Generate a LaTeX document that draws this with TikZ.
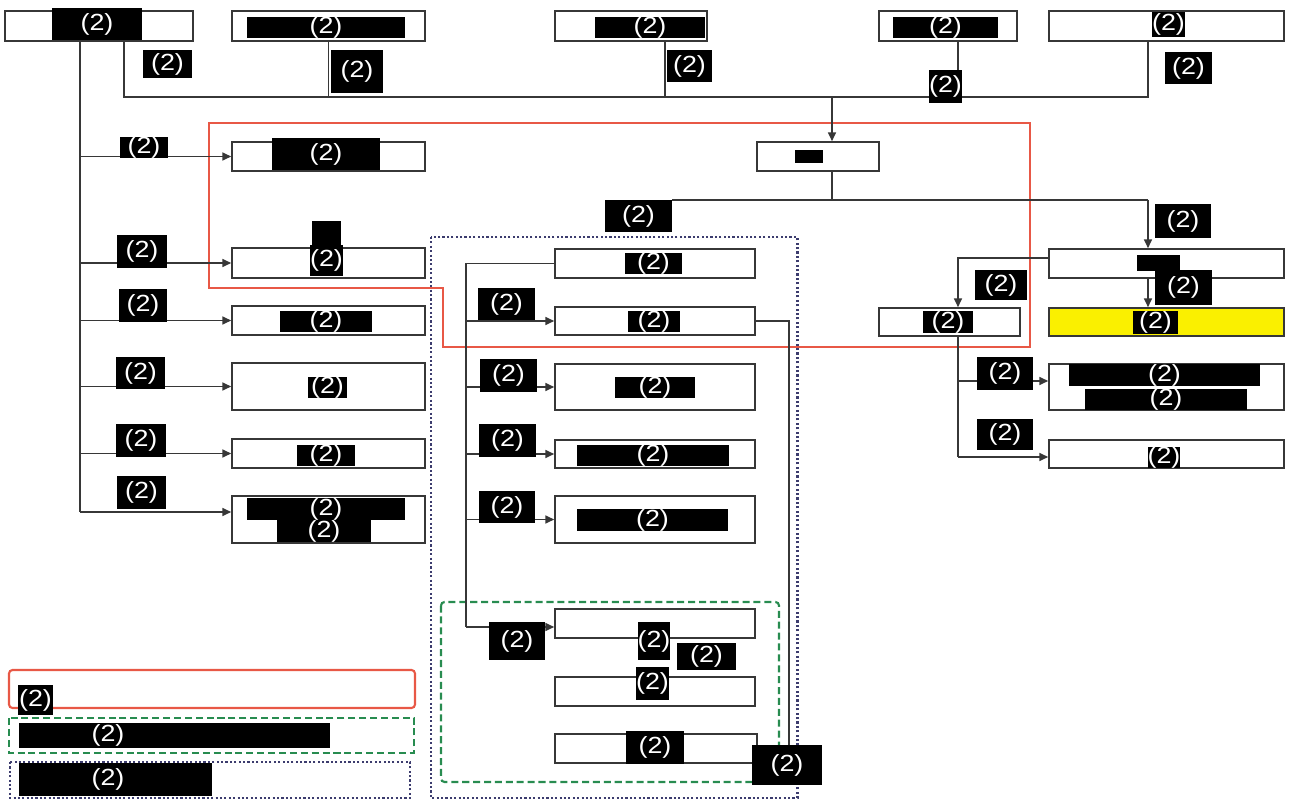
\documentclass[tikz,border=0pt]{standalone}
\usepackage{fontspec}
\setmainfont{Liberation Sans}
\newfontfamily\labfont[FakeStretch=1.15]{Liberation Sans}
\usetikzlibrary{arrows.meta}
\definecolor{redg}{RGB}{232,88,70}
\definecolor{greeng}{RGB}{40,140,80}
\definecolor{navyg}{RGB}{60,60,110}
\definecolor{boxc}{RGB}{55,55,55}
\definecolor{yel}{RGB}{250,240,0}
\tikzset{
  box/.style={draw=boxc, line width=0.9pt, fill=white, inner sep=0pt},
  blk/.style={fill=black, text=white, inner sep=0pt, font=\labfont\fontsize{13.3}{14}\selectfont},
  txt/.style={text=white, inner sep=0pt, font=\labfont\fontsize{13.3}{14}\selectfont},
  con/.style={draw=boxc, line width=0.85pt},
  arr/.style={con, -{Triangle[length=5pt,width=4.5pt]}},
  redl/.style={draw=redg, line width=1.2pt},
  greenl/.style={draw=greeng, line width=1.2pt, dash pattern=on 4pt off 2.2pt},
  navyl/.style={draw=navyg, line width=1.7pt, dash pattern=on 1.2pt off 1.3pt},
}
% box: [opts]{x1}{y1}{x2}{y2}{name}
\newcommand\mybox[6][]{\node[box,#1, minimum width={(#4-#2)*0.02cm}, minimum height={(#5-#3)*0.02cm}] (#6) at ({(#2+#4)/2},{(#3+#5)/2}) {};}
% redaction: {x1}{y1}{x2}{y2}{name}{text}
\newcommand\rd[6]{\node[blk, minimum width={(#3-#1)*0.02cm}, minimum height={(#4-#2)*0.02cm}] (#5) at ({(#1+#3)/2},{(#2+#4)/2}) {#6};}
\begin{document}
\begin{tikzpicture}[x=0.02cm, y=-0.02cm]
\useasboundingbox (0,0) rectangle (1289,800);
\fill[white] (0,0) rectangle (1289,800);

% group frames
\draw[redl] (209,123) -- (1030,123) -- (1030,347) -- (443,347) -- (443,288) -- (209,288) -- cycle;
\draw[navyl] (431,237) rectangle (797,798);
\draw[greenl, rounded corners=2pt] (441,602) rectangle (779,782);

% legend
\draw[redl, rounded corners=2pt] (9,670) rectangle (415,708);
\draw[greenl] (9,718) rectangle (414,753);
\draw[navyl] (10,762) rectangle (410,798);

% boxes
\mybox{5}{11}{193}{41}{A}
\mybox{232}{11}{425}{41}{B}
\mybox{555}{11}{707}{41}{C}
\mybox{879}{11}{1017}{41}{D}
\mybox{1049}{11}{1284}{41}{E}
\mybox{757}{142}{879}{171}{F}
\mybox{1049}{249}{1284}{278}{G}
\mybox[fill=yel]{1049}{308}{1284}{336}{H}
\mybox{879}{308}{1020}{336}{I}
\mybox{1049}{364}{1284}{410}{J}
\mybox{1049}{440}{1284}{468}{K}
\mybox{232}{142}{425}{171}{L1}
\mybox{232}{248}{425}{278}{L2}
\mybox{232}{306}{425}{335}{L3}
\mybox{232}{363}{425}{410}{L4}
\mybox{232}{439}{425}{468}{L5}
\mybox{232}{496}{425}{543}{L6}
\mybox{555}{249}{755}{278}{M1}
\mybox{555}{307}{755}{335}{M2}
\mybox{555}{364}{755}{410}{M3}
\mybox{555}{440}{755}{468}{M4}
\mybox{555}{496}{755}{543}{M5}
\mybox{555}{609}{755}{638}{N1}
\mybox{555}{677}{755}{706}{N2}
\mybox{555}{734}{757}{763}{N3}

% connector coordinates
\coordinate (tA) at (80,512);
\coordinate (b0) at (124,97);
\coordinate (b1) at (1148,97);
\coordinate (cC) at (665,97);
\coordinate (cD) at (958,97);
\coordinate (bF) at (832,97);
\coordinate (j1) at (832,200);
\coordinate (j2) at (1148,200);
\coordinate (gI) at (958,258);
\coordinate (iJ) at (958,381);
\coordinate (iT) at (958,457);
\coordinate (mT) at (466,627);
\coordinate (rT) at (789,319);

% left trunk
\draw[con] (A.south -| tA) -- (tA);
\draw[arr] (L1.west -| tA) -- (L1.west);
\draw[arr] (L2.west -| tA) -- (L2.west);
\draw[arr] (L3.west -| tA) -- (L3.west);
\draw[arr] (L4.west -| tA) -- (L4.west);
\draw[arr] (L5.west -| tA) -- (L5.west);
\draw[arr] (tA) -- (tA -| L6.west);

% top bus
\draw[con] (A.south -| b0) -- (b0) -- (b1) -- (E.south -| b1);
\draw[con] (B.south) -- (B.south |- b0);
\draw[con] (C.south -| cC) -- (cC);
\draw[con] (D.south -| cD) -- (cD);
\draw[arr] (bF) -- (F.north -| bF);

% right side
\draw[con] (F.south -| j1) -- (j1);
\draw[con] (j1 -| 672,0) -- (j2);
\draw[arr] (j2) -- (G.north -| j2);
\draw[arr] (G.south -| j2) -- (H.north -| j2);
\draw[arr] (gI -| G.west) -- (gI) -- (I.north -| gI);
\draw[con] (I.south -| iT) -- (iT);
\draw[arr] (iJ) -- (iJ -| J.west);
\draw[arr] (iT) -- (iT -| K.west);

% middle trunk
\draw[con] (M1.west) -- (M1.west -| mT) -- (mT);
\draw[arr] (M2.west -| mT) -- (M2.west);
\draw[arr] (M3.west -| mT) -- (M3.west);
\draw[arr] (M4.west -| mT) -- (M4.west);
\draw[arr] (M5.west -| mT) -- (M5.west);
\draw[arr] (mT) -- (mT -| N1.west);

% redactions inside boxes
\rd{52}{8}{142}{40}{rA}{(2)}
\rd{247}{18}{405}{37}{rB}{(2)}
\rd{595}{18}{705}{37}{rC}{(2)}
\rd{893}{18}{998}{37}{rD}{(2)}
\rd{1152}{12}{1185}{37}{rE}{(2)}
\rd{795}{150}{823}{163}{rF}{}
\rd{1137}{255}{1180}{271}{rG}{}
\rd{1133}{311}{1178}{334}{rH}{(2)}
\rd{923}{311}{973}{333}{rI}{(2)}
\rd{1069}{366}{1260}{384}{rJa}{(2)}
\rd{1085}{391}{1247}{408}{rJb}{(2)}
\rd{1150}{447}{1178}{468}{rK}{(2)}
\rd{272}{138}{380}{170}{rL1}{(2)}
\rd{312}{221}{341}{246}{rL2a}{}
\rd{312}{245}{341}{276}{rL2}{(2)}
\rd{280}{313}{372}{330}{rL3}{(2)}
\rd{308}{378}{347}{397}{rL4}{(2)}
\rd{297}{445}{355}{466}{rL5}{(2)}
\rd{247}{500}{405}{518}{rL6a}{(2)}
\rd{277}{521}{371}{541}{rL6b}{(2)}
\rd{625}{255}{682}{272}{rM1}{(2)}
\rd{628}{313}{680}{330}{rM2}{(2)}
\rd{615}{377}{695}{398}{rM3}{(2)}
\rd{577}{446}{729}{465}{rM4}{(2)}
\rd{577}{510}{728}{530}{rM5}{(2)}
\rd{638}{622}{670}{660}{rN1}{(2)}
\rd{677}{643}{736}{670}{rN1b}{(2)}
\rd{637}{667}{668}{700}{rN2}{(2)}
\rd{626}{731}{684}{764}{rN3}{(2)}

% connector labels
\rd{143}{50}{192}{78}{lA}{(2)}
\rd{331}{50}{383}{93}{lB}{(2)}
\rd{667}{50}{712}{82}{lC}{(2)}
\rd{933}{70}{958}{103}{lD}{(2)}
\rd{1165}{52}{1212}{84}{lE}{(2)}
\rd{605}{200}{672}{232}{lF}{(2)}
\rd{1155}{204}{1211}{238}{lG}{(2)}
\rd{1155}{270}{1212}{305}{lH}{(2)}
\rd{975}{270}{1027}{300}{lI}{(2)}
\rd{977}{357}{1033}{390}{lJ}{(2)}
\rd{977}{419}{1033}{450}{lK}{(2)}
\rd{120}{139}{168}{156}{lL1}{(2)}
\rd{117}{235}{167}{268}{lL2}{(2)}
\rd{119}{289}{167}{322}{lL3}{(2)}
\rd{116}{357}{165}{389}{lL4}{(2)}
\rd{116}{424}{166}{457}{lL5}{(2)}
\rd{117}{476}{166}{509}{lL6}{(2)}
\rd{478}{288}{535}{320}{lM2}{(2)}
\rd{480}{359}{537}{392}{lM3}{(2)}
\rd{479}{424}{536}{457}{lM4}{(2)}
\rd{479}{491}{535}{523}{lM5}{(2)}
\rd{489}{622}{545}{660}{lN1}{(2)}
\rd{752}{745}{822}{785}{lEnd}{(2)}
\draw[con] (M2.east) -- (M2.east -| rT) -- (rT |- lEnd.north);

% legend labels
\rd{18}{685}{53}{715}{lg1}{(2)}
\fill[black] (19,723) rectangle (330,748);
\node[txt] (lg2) at (108,735) {(2)};
\fill[black] (19,763) rectangle (212,796);
\node[txt] (lg3) at (108,779) {(2)};
\end{tikzpicture}
\end{document}
